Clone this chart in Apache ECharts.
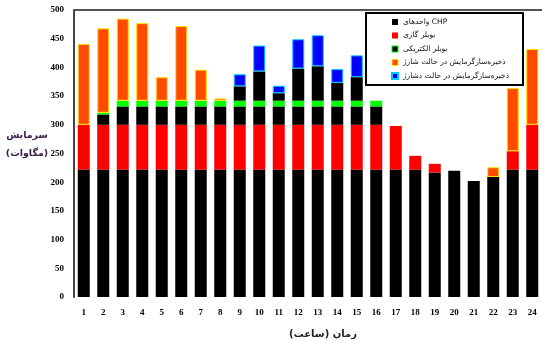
<!DOCTYPE html>
<html><head><meta charset="utf-8">
<script src="https://cdn.jsdelivr.net/npm/echarts@6/dist/echarts.min.js"></script>
<style>html,body{margin:0;padding:0;background:#fff}#c{width:542px;height:344px}</style>
</head><body><div id="c"></div>
<script>
const hours = ['1','2','3','4','5','6','7','8','9','10','11','12','13','14','15','16','17','18','19','20','21','22','23','24'];
const chp = [222,222,222,222,222,222,222,222,222,222,222,222,222,222,222,222,222,222,217,220,202,209,222,222];
const gasBoiler = [78,78,78,78,78,78,78,78,78,78,78,78,78,78,78,78,76,24,15,0,0,0,32,78];
const elecBoilerLow = [0,18,32,32,32,32,32,32,32,32,32,32,32,32,32,32,0,0,0,0,0,0,0,0];
const elecBoilerBand = [0,3,10,10,10,10,10,10,10,10,10,10,10,10,10,10,0,0,0,0,0,0,0,0];
const elecBoilerHigh = [0,0,0,0,0,0,0,0,25,51,13,56,60,31,41,0,0,0,0,0,0,0,0,0];
const storageCharge = [141,147,143,135,41,130,54,4,0,0,0,0,0,0,0,0,0,0,0,0,0,17,110,132];
const storageDischarge = [0,0,0,0,0,0,0,0,21,45,13,51,54,24,38,0,0,0,0,0,0,0,0,0];

const names = {
  chp: 'واحدهای CHP',
  gas: 'بویلر گازی',
  elec: 'بویلر الکتریکی',
  charge: 'ذخیره‌سازگرمایش در حالت شارژ',
  discharge: 'ذخیره‌سازگرمایش در حالت دشارژ'
};
const nz = a => a.map(v => v === 0 ? '-' : v);
const bw = 12;
const mk = (name, data, color, border) => ({
  name, type: 'bar', stack: 'tot', barWidth: bw, data: nz(data),
  itemStyle: border ? {color, borderColor: border, borderWidth: 1} : {color},
  emphasis: {disabled: true}
});
const serif = 'Liberation Serif';
const chart = echarts.init(document.getElementById('c'));
chart.setOption({
  animation: false,
  grid: {left: 74, right: 0, top: 10, bottom: 46},
  legend: {
    orient: 'vertical', left: 366, top: 13,
    padding: [4, 14, 4, 25],
    backgroundColor: '#fff', borderColor: '#000', borderWidth: 2,
    itemWidth: 6, itemHeight: 6, itemGap: 3.5,
    textStyle: {fontFamily: 'DejaVu Sans', fontSize: 7.5, color: '#111', lineHeight: 10},
    data: [
      {name: names.chp, icon: 'rect', itemStyle: {color: '#000'}},
      {name: names.gas, icon: 'rect', itemStyle: {color: '#ff0000'}},
      {name: names.elec, icon: 'rect', itemStyle: {color: '#000', borderColor: '#00ff00', borderWidth: 1}},
      {name: names.charge, icon: 'rect', itemStyle: {color: '#ff4a00', borderColor: '#ffe000', borderWidth: 1}},
      {name: names.discharge, icon: 'rect', itemStyle: {color: '#0000ff'}}
    ]
  },
  xAxis: [{
    type: 'category', data: hours,
    axisLine: {show: false}, axisTick: {show: false},
    axisLabel: {margin: 11, fontFamily: serif, fontWeight: 'bold', fontSize: 9, color: '#000'},
    name: 'زمان (ساعت)', nameLocation: 'middle', nameGap: 32,
    nameTextStyle: {fontFamily: 'DejaVu Sans', fontWeight: 'bold', fontSize: 10, color: '#222', padding: [0, 0, 0, 30]}
  }, {
    type: 'category', data: hours, position: 'top',
    axisLine: {show: true, lineStyle: {color: '#555', width: 2}},
    axisTick: {show: false}, axisLabel: {show: false}
  }],
  yAxis: {
    type: 'value', min: 0, max: 500, interval: 50,
    axisLine: {show: true, lineStyle: {color: '#444', width: 2}},
    axisTick: {show: false}, splitLine: {show: false},
    axisLabel: {margin: 10, fontFamily: serif, fontWeight: 'bold', fontSize: 9, color: '#000'}
  },
  graphic: [{
    type: 'text', x: 27, y: 127,
    style: {text: 'سرمایش\n(مگاوات)', fontFamily: 'DejaVu Sans', fontWeight: 'bold', fontSize: 9.5, lineHeight: 18, fill: '#3a1f4a', align: 'center', verticalAlign: 'top'}
  }],
  series: [
    mk(names.chp, chp, '#000000'),
    mk(names.gas, gasBoiler, '#ff0000'),
    mk('b1', elecBoilerLow, '#000000'),
    mk(names.elec, elecBoilerBand, '#00ff00'),
    mk('b2', elecBoilerHigh, '#000000'),
    mk(names.charge, storageCharge, '#ff4a00', '#ffe000'),
    mk(names.discharge, storageDischarge, '#0000ff', '#00c8ff')
  ]
});
</script></body></html>
